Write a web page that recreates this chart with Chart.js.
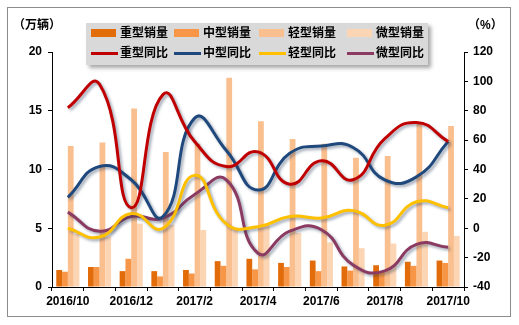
<!DOCTYPE html>
<html>
<head>
<meta charset="utf-8">
<script src="https://cdn.jsdelivr.net/npm/chart.js@4"></script>
<style>
  body { margin: 0; background: #fff; font-family: 'Liberation Sans', 'Noto Sans CJK SC', sans-serif; }
  #wrap { position: relative; width: 519px; height: 325px; }
  #frame { position: absolute; left: 7px; top: 7px; width: 502px; height: 308px; border: 1px solid #8c8c8c; }
  #c { position: absolute; left: 0; top: 0; }
  .unit { position: absolute; top: 15px; font-size: 12px; font-weight: bold; color: #000; }
  #legend { position: absolute; left: 86px; top: 23px; width: 342px; height: 42px; background: #d9d9d9;
            box-shadow: 3px 3px 4px rgba(0,0,0,0.35); }
  .item { position: absolute; height: 16px; font-size: 12px; font-weight: bold; color: #000; white-space: nowrap; }
  .item span.sw { position: absolute; left: 0; }
  .item span.tx { position: absolute; left: 29px; top: 0; line-height: 16px; }
</style>
</head>
<body>
<div id="wrap">
  <div id="frame"></div>
  <canvas id="c" width="519" height="325"></canvas>
  <div class="unit" style="left:13px">（万辆）</div>
  <div class="unit" style="left:468px">（%）</div>
  <div id="legend"></div>
</div>
<script>
const months = ['2016/10', '2016/11', '2016/12', '2017/1', '2017/2', '2017/3', '2017/4',
                '2017/5', '2017/6', '2017/7', '2017/8', '2017/9', '2017/10'];

// sales, 10k vehicles
const heavySales  = [1.45, 1.7, 1.35, 1.35, 1.45, 2.2, 2.4, 2.05, 2.25, 1.75, 1.85, 2.15, 2.25];
const mediumSales = [1.3, 1.7, 2.4, 0.9, 1.15, 1.8, 1.5, 1.7, 1.35, 1.4, 1.3, 1.8, 2.05];
const lightSales  = [12.0, 12.3, 15.2, 11.5, 12.2, 17.8, 14.1, 12.6, 12.2, 11.0, 11.15, 13.95, 13.7];
const miniSales   = [4.5, 4.3, 5.4, 5.3, 4.85, 5.0, 5.2, 4.6, 3.8, 3.3, 3.7, 4.7, 4.35];

// year-on-year growth, %
const heavyYoY  = [82, 98, 14, 91, 59, 42, 52, 30, 46, 33, 61, 72, 59];
const mediumYoY = [21, 42, 33, 8, 75, 53, 26, 51, 56, 55, 33, 35, 59];
const lightYoY  = [0, -6, 10, 0, 36, 3, 1, 8, 7, 12, 2, 18, 14];
const miniYoY   = [11, -2, 8, 7, 23, 33, -17, -2, -1, -25, -29, -11, -13];

const leftTicks = { min: 0, max: 20, step: 5 };
const rightTicks = { min: -40, max: 120, step: 20 };

const font = { family: "'Liberation Sans', 'Noto Sans CJK SC', sans-serif", size: 12, weight: 'bold' };

function bar(label, data, color) {
    return { type: 'bar', label, data, backgroundColor: color, yAxisID: 'y', order: 2,
             categoryPercentage: 0.73, barPercentage: 1 };
}
function line(label, data, color) {
    return { type: 'line', label, data, borderColor: color, backgroundColor: color, yAxisID: 'y1', order: 1,
             borderWidth: 3, pointRadius: 0, tension: 0.5, fill: false };
}

// soft drop shadow under the lines
const lineShadow = {
    id: 'lineShadow',
    beforeDatasetDraw(chart, args) {
        if (args.meta.type !== 'line') return;
        const c = chart.ctx;
        c.save();
        c.shadowColor = 'rgba(40,60,90,0.45)';
        c.shadowBlur = 3;
        c.shadowOffsetX = 2;
        c.shadowOffsetY = 2;
    },
    afterDatasetDraw(chart, args) {
        if (args.meta.type !== 'line') return;
        chart.ctx.restore();
    }
};

const chart = new Chart(document.getElementById('c').getContext('2d'), {
    type: 'bar',
    data: {
        labels: months,
        datasets: [
            bar('重型销量', heavySales, '#e26b0a'),
            bar('中型销量', mediumSales, '#f79646'),
            bar('轻型销量', lightSales, '#fabf8f'),
            bar('微型销量', miniSales, '#fcd5b5'),
            line('重型同比', heavyYoY, '#c00000'),
            line('中型同比', mediumYoY, '#1f497d'),
            line('轻型同比', lightYoY, '#ffc000'),
            line('微型同比', miniYoY, '#8b3a62')
        ]
    },
    options: {
        responsive: false,
        animation: false,
        layout: { padding: { left: 12, right: 15, top: 52, bottom: 13 } },
        plugins: { legend: { display: false }, tooltip: { enabled: false } },
        scales: {
            x: {
                grid: { drawOnChartArea: false, tickLength: 4, color: '#000', offset: true },
                border: { color: '#000' },
                ticks: {
                    autoSkip: false, maxRotation: 0, color: '#000', font, padding: 3,
                    callback: (v, i) => i % 2 === 0 ? months[i] : ''
                },
                afterFit(s) { s.height = 25; }
            },
            y: {
                position: 'left', min: leftTicks.min, max: leftTicks.max,
                ticks: { stepSize: leftTicks.step, color: '#000', font, padding: 6 },
                grid: { drawOnChartArea: false, tickLength: 4, color: '#000' },
                border: { color: '#000' },
                afterFit(s) { s.width = 40; }
            },
            y1: {
                position: 'right', min: rightTicks.min, max: rightTicks.max,
                ticks: { stepSize: rightTicks.step, color: '#000', font, padding: 5 },
                grid: { drawOnChartArea: false, tickLength: 4, color: '#000' },
                border: { color: '#000' },
                afterFit(s) { s.width = 40; }
            }
        }
    },
    plugins: [lineShadow]
});

// two-row legend: sales bars on top, growth lines below
const legend = document.getElementById('legend');
const colX = [5, 88, 173, 261];
chart.data.datasets.forEach((ds, i) => {
    const isLine = ds.type === 'line';
    const col = i % 4;
    const item = document.createElement('div');
    item.className = 'item';
    item.style.left = colX[col] + 'px';
    item.style.top = (isLine ? 22 : 2) + 'px';
    const sw = document.createElement('span');
    sw.className = 'sw';
    if (isLine) {
        sw.style.cssText += `top:7px;width:27px;height:3px;background:${ds.borderColor}`;
    } else {
        sw.style.cssText += `top:4px;width:25px;height:8px;background:${ds.backgroundColor}`;
    }
    const tx = document.createElement('span');
    tx.className = 'tx';
    tx.textContent = ds.label;
    item.appendChild(sw);
    item.appendChild(tx);
    legend.appendChild(item);
});
</script>
</body>
</html>
